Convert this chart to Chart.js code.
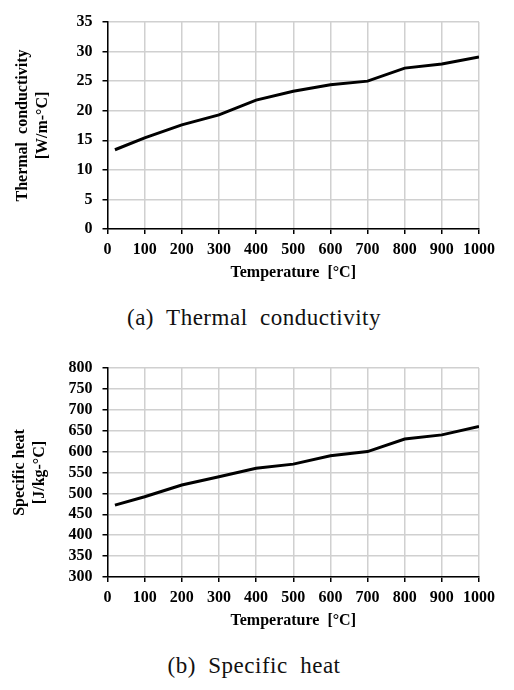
<!DOCTYPE html>
<html>
<head>
<meta charset="utf-8">
<script src="https://cdn.jsdelivr.net/npm/chart.js@4/dist/chart.umd.min.js"></script>
<style>
  html, body { margin: 0; padding: 0; background: #fff; width: 514px; height: 690px; overflow: hidden; }
  .wrap { position: absolute; left: 0; width: 514px; }
  .cap { position: absolute; left: -3px; width: 514px; text-align: center; font-family: "Liberation Serif", "DejaVu Serif", serif; font-size: 23px; line-height: 1; letter-spacing: 0.5px; color: #111; white-space: pre; }
</style>
</head>
<body>
<div class="wrap" style="top:0;height:285px"><canvas id="c1"></canvas></div>
<div class="cap" style="top:306px">(a)  Thermal  conductivity</div>
<div class="wrap" style="top:345px;height:288px"><canvas id="c2"></canvas></div>
<div class="cap" style="top:654px">(b)  Specific  heat</div>
<script>
const temperatures = [20, 100, 200, 300, 400, 500, 600, 700, 800, 900, 1000];
const thermalConductivity = [13.4, 15.4, 17.6, 19.3, 21.8, 23.3, 24.4, 25.0, 27.2, 27.9, 29.1];
const specificHeat = [472, 492, 520, 540, 560, 570, 590, 600, 630, 640, 660];
const xTitle = "Temperature  [\u00B0C]";
const yTitle1 = ["Thermal  conductivity", "[W/m-\u00B0C]"];
const yTitle2 = ["Specific heat", "[J/kg-\u00B0C]"];

const serif = "'Liberation Serif', 'DejaVu Serif', serif";
const tickFont = { family: serif, size: 16, weight: 'bold' };

function makeChart(id, values, yMin, yMax, yStep, yTitle, cfg) {
  const data = temperatures.map((t, i) => ({ x: t, y: values[i] }));
  return new Chart(document.getElementById(id), {
    type: 'line',
    data: { datasets: [{ data, borderColor: '#000', borderWidth: 3, pointRadius: 0, tension: 0, fill: false }] },
    options: {
      responsive: true, maintainAspectRatio: false, animation: false,
      plugins: { legend: { display: false }, tooltip: { enabled: false } },
      layout: { padding: { left: 0, right: 35, top: cfg.top, bottom: 0 } },
      scales: {
        x: {
          type: 'linear', min: 0, max: 1000,
          afterFit: s => { s.height = cfg.xHeight; },
          ticks: { stepSize: 100, autoSkip: false, color: '#000', font: tickFont, padding: 6, maxRotation: 0, callback: v => String(v) },
          grid: { color: '#d0d0d0', lineWidth: 1.5, tickColor: '#000', tickLength: 5 },
          border: { color: '#000', width: 1.5 },
          title: { display: true, text: xTitle, color: '#000', font: { family: serif, size: 16, weight: 'bold', lineHeight: 1.2 }, padding: { top: 0, bottom: 3 } }
        },
        y: {
          min: yMin, max: yMax,
          afterFit: s => { s.width = 107.5; },
          ticks: { stepSize: yStep, autoSkip: false, color: '#000', font: tickFont, padding: 10 },
          grid: { color: '#d0d0d0', lineWidth: 1.5, tickColor: '#000', tickLength: 5 },
          border: { color: '#000', width: 1.5 },
          title: { display: true, text: yTitle, color: '#000', font: { family: serif, size: 16, weight: 'bold', lineHeight: 1.3 }, padding: { top: cfg.titleTop, bottom: 0 } }
        }
      }
    }
  });
}

makeChart('c1', thermalConductivity, 0, 35, 5, yTitle1, { top: 22, xHeight: 56, titleTop: 12 });
makeChart('c2', specificHeat, 300, 800, 50, yTitle2, { top: 23, xHeight: 56, titleTop: 9 });
</script>
</body>
</html>
